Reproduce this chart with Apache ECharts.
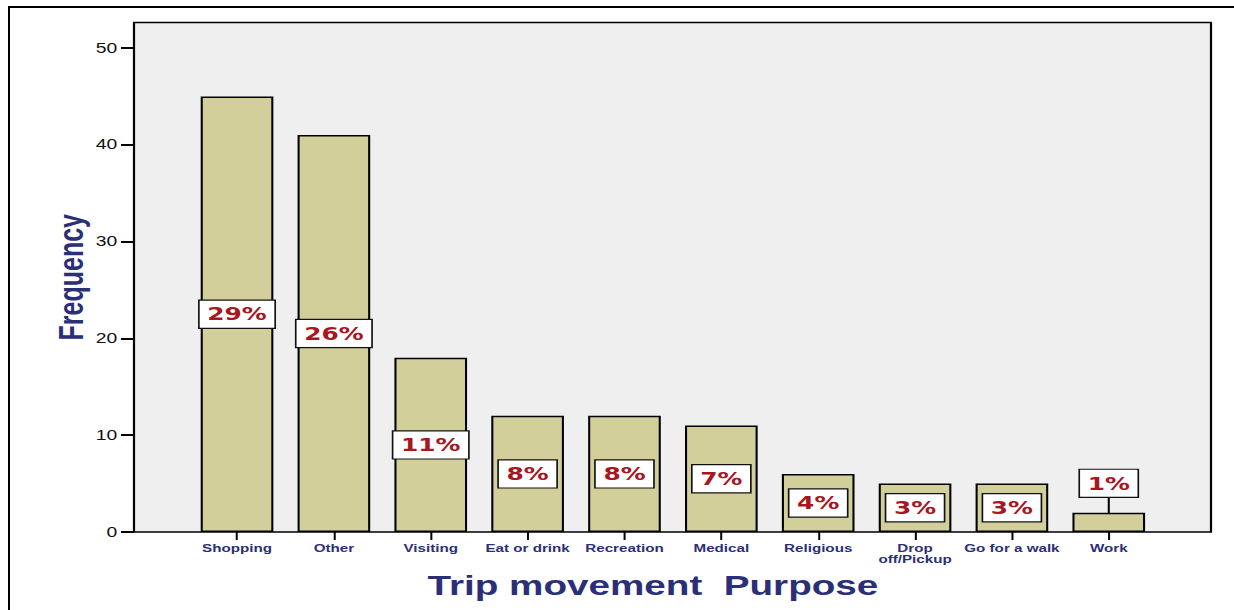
<!DOCTYPE html>
<html>
<head>
<meta charset="utf-8">
<script src="https://cdn.jsdelivr.net/npm/echarts@6/dist/echarts.min.js"></script>
<style>
html, body { margin: 0; padding: 0; background: #fff; overflow: hidden; width: 1234px; height: 610px; }
#chart { position: absolute; left: 0; top: 0; width: 894px; height: 610px; transform: scaleX(1.380313); transform-origin: 0 0; }
</style>
</head>
<body>
<div id="chart"></div>
<script>
// ---- data ----
const categories = ['Shopping', 'Other', 'Visiting', 'Eat or drink', 'Recreation', 'Medical', 'Religious', 'Drop\noff/Pickup', 'Go for a walk', 'Work'];
const frequency = [45, 41, 18, 12, 12, 11, 6, 5, 5, 2];
const yMin = 0, yMax = 50, yInterval = 10;
const xTitle = 'Trip movement  Purpose';
const yTitle = 'Frequency';

// ---- layout helpers (chart is drawn narrower, then stretched horizontally like the source image) ----
const SX = 1234 / 894;
const px = v => v / SX;
const NAVY = '#2a2f78';
const total = frequency.reduce((a, b) => a + b, 0);
const minValueForInsideLabel = 3;

const chart = echarts.init(document.getElementById('chart'), null, { renderer: 'svg' });

const option = {
  animation: false,
  backgroundColor: '#fff',
  graphic: [
    { type: 'rect', silent: true, shape: { x: px(8), y: 6, width: 1000, height: 2 }, style: { fill: '#000' } },
    { type: 'rect', silent: true, shape: { x: px(8), y: 6, width: px(2), height: 700 }, style: { fill: '#000' } }
  ],
  grid: [
    { left: px(134), right: px(1234 - 1211), top: 22.5, bottom: 78, show: true,
      backgroundColor: '#efefef', borderColor: '#000', borderWidth: 1.6 },
    { left: px(188.6), right: px(1234 - 1157.2), top: 48, bottom: 78 }
  ],
  xAxis: [
    { gridIndex: 0, type: 'value', show: false },
    {
      gridIndex: 1, type: 'category', data: categories,
      axisLine: { show: false },
      axisTick: { show: true, alignWithLabel: true, length: 8, lineStyle: { color: '#000', width: px(2) } },
      axisLabel: { interval: 0, margin: 10.5, fontSize: 11, fontWeight: 'bold', color: NAVY,
                   fontFamily: '"Liberation Sans", Arial, sans-serif', lineHeight: 11 },
      name: xTitle, nameLocation: 'middle', nameGap: 39,
      nameTextStyle: { fontSize: 28, fontWeight: 'bold', color: NAVY,
                       fontFamily: '"Liberation Sans", Arial, sans-serif', padding: [0, 29, 0, 0] },
      splitLine: { show: false }
    }
  ],
  yAxis: [
    {
      gridIndex: 0, type: 'value', min: 0, max: 1,
      name: yTitle, nameLocation: 'middle', nameGap: 33,
      nameTextStyle: { fontSize: 25, fontWeight: 'bold', color: NAVY, fontFamily: '"Liberation Sans", Arial, sans-serif' },
      axisLine: { show: false }, axisTick: { show: false }, axisLabel: { show: false }, splitLine: { show: false }
    },
    {
      gridIndex: 1, type: 'value', min: yMin, max: yMax, interval: yInterval,
      offset: px(188.6 - 134),
      axisLine: { show: false },
      axisTick: { show: true, length: px(13), lineStyle: { color: '#000', width: 2 } },
      axisLabel: { margin: px(16.7), fontSize: 14, color: '#111', fontFamily: '"Liberation Sans", Arial, sans-serif' },
      splitLine: { show: false }
    }
  ],
  series: [{
    type: 'bar',
    xAxisIndex: 1, yAxisIndex: 1,
    barWidth: '75%',
    itemStyle: { color: '#d3cf9b', borderColor: '#000', borderWidth: 1.5 },
    label: {
      show: true, position: 'inside',
      formatter: p => Math.round(p.value / total * 100) + '%',
      fontFamily: '"DejaVu Sans", sans-serif', fontWeight: 'bold', fontSize: 18, color: '#a8161f',
      lineHeight: 21, backgroundColor: '#fff', borderColor: '#111', borderWidth: 1.2,
      padding: [4, 5.5, 2, 5.5]
    },
    // a label that does not fit in its bar is lifted above the bar, with a leader line into the bar
    labelLayout: function (params) {
      const r = params.rect, l = params.labelRect;
      if (r.height >= l.height) return {};
      const cx = r.x + r.width / 2;
      const cy = r.y - 14.6 - l.height / 2;
      const mid = r.y + r.height / 2;
      return {
        x: cx, y: cy, align: 'center', verticalAlign: 'middle',
        labelLinePoints: [[cx + 1.5, cy + l.height / 2], [cx, mid], [cx, mid]]
      };
    },
    data: frequency.map(v => ({
      value: v,
      labelLine: { show: v < minValueForInsideLabel, lineStyle: { color: '#000', width: 1.5 } }
    }))
  }]
};

chart.setOption(option);
chart.setOption(option);
</script>
</body>
</html>
